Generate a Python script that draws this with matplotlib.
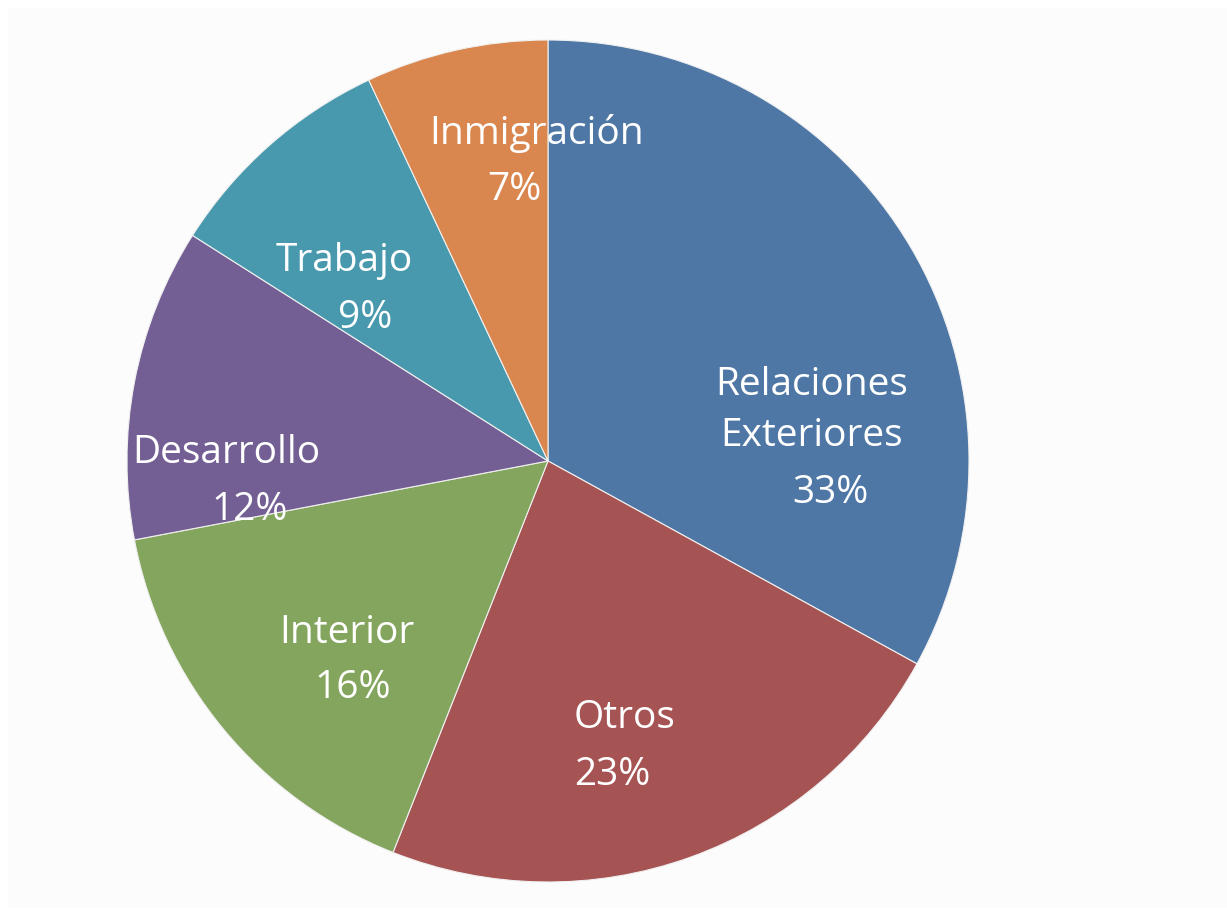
import matplotlib
matplotlib.use('Agg')
from matplotlib import pyplot as plt
from matplotlib.patches import Rectangle

categories = ['Relaciones\nExteriores', 'Otros', 'Interior', 'Desarrollo', 'Trabajo', 'Inmigración']
shares = [33, 23, 16, 12, 9, 7]
colors = ['#4E77A5', '#A65353', '#84A55D', '#735F93', '#4899AD', '#D9874F']

# label positions (name, percent) in units of the pie radius
name_pos = [(0.627, 0.120), (0.183, -0.610), (-0.477, -0.409),
            (-0.765, 0.019), (-0.485, 0.475), (-0.026, 0.779)]
pct_pos = [(0.672, -0.076), (0.152, -0.746), (-0.463, -0.539),
           (-0.708, -0.116), (-0.435, 0.340), (-0.081, 0.644)]

plt.rcParams['font.family'] = ['Open Sans', 'DejaVu Sans']

W, H = 1227, 916
cx, cy, r = 548, 461, 421

fig = plt.figure(figsize=(W / 100, H / 100), dpi=100)
fig.patch.set_facecolor('white')
fig.add_artist(Rectangle((8 / W, 8 / H), 1, 900 / H, transform=fig.transFigure,
                         facecolor='#fcfcfc', edgecolor='none', zorder=0))

ax = fig.add_axes([0, 0, 1, 1])
ax.set_facecolor('none')
ax.pie(shares, colors=colors, startangle=90, counterclock=False, radius=1,
       wedgeprops=dict(edgecolor='#f0f0f0', linewidth=0.8))
ax.set_xlim(-cx / r, (W - cx) / r)
ax.set_ylim(-(H - cy) / r, cy / r)
ax.set_aspect('equal')
ax.axis('off')

for name, share, (nx, ny), (px, py) in zip(categories, shares, name_pos, pct_pos):
    ax.text(nx, ny, name, color='white', fontsize=28, ha='center', va='center',
            linespacing=1.45)
    ax.text(px, py, '{}%'.format(share), color='white', fontsize=28,
            ha='center', va='center')

fig.savefig('out.png', dpi=100)
